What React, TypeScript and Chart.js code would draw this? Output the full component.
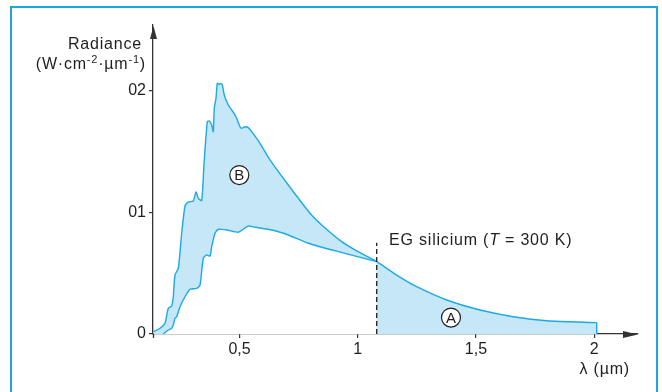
import React, { useEffect, useRef } from 'react';
import { Chart, registerables } from 'chart.js';

Chart.register(...registerables);

// ---------- data ----------
// Upper curve (solar spectrum), wavelength in µm
const upperLambda = [
  0.1353, 0.1637, 0.1848, 0.1988, 0.2132, 0.2199, 0.2271, 0.2411, 0.2555, 0.2694,
  0.2834, 0.3045, 0.3159, 0.3257, 0.34, 0.3498, 0.3637, 0.3722, 0.3823, 0.3891,
  0.3933, 0.4005, 0.406, 0.4145, 0.4204, 0.4272, 0.4356, 0.4525, 0.4669, 0.4766,
  0.4881, 0.502, 0.5092, 0.5232, 0.5371, 0.5515, 0.5866, 0.6289, 0.7063, 0.7981,
  0.8476, 0.9322, 0.9884, 1.0802, 1.1648, 1.2494, 1.3763, 1.5171, 1.6579, 1.7992,
  2.0107,
];
const upperRadiance = [
  0.0019, 0.0047, 0.0088, 0.0211, 0.023, 0.0306, 0.0484, 0.0539, 0.0827, 0.1051,
  0.1084, 0.1092, 0.1166, 0.1114, 0.1096, 0.1393, 0.1743, 0.1749, 0.1716, 0.1661,
  0.1853, 0.1935, 0.2058, 0.205, 0.2058, 0.2044, 0.1962, 0.188, 0.1839, 0.1812,
  0.1771, 0.1702, 0.1689, 0.1702, 0.1694, 0.1661, 0.1566, 0.1429, 0.1223, 0.0991,
  0.0895, 0.0758, 0.069, 0.0594, 0.0484, 0.0388, 0.0279, 0.0197, 0.0142, 0.0109,
  0.0093,
];
// Lower curve, up to the silicon gap
const lowerLambda = [
  0.1776, 0.1988, 0.2132, 0.2199, 0.2271, 0.2343, 0.2483, 0.2694, 0.2906, 0.3189,
  0.3329, 0.3468, 0.3612, 0.3752, 0.3823, 0.3963, 0.4103, 0.4458, 0.4948, 0.516,
  0.5371, 0.5655, 0.6501, 0.7063, 0.7909, 0.9178, 1.0802,
];
const lowerRadiance = [
  0, 0.0033, 0.0047, 0.0074, 0.0129, 0.0142, 0.0224, 0.0306, 0.0367, 0.0375,
  0.0402, 0.0622, 0.0649, 0.064, 0.0717, 0.0827, 0.086, 0.0854, 0.0835, 0.086,
  0.0887, 0.0876, 0.0848, 0.0813, 0.0745, 0.0676, 0.0594,
];
const gapLambda = 1.0802; // EG silicium (T = 300 K)
const gapMarkerTop = 0.075;

const xTickValues = [0.5, 1, 1.5, 2];
const xTickLabels = ['0,5', '1', '1,5', '2'];
const yTickValues = [0, 0.1, 0.2];
const yTickLabels = ['0', '01', '02'];

const X_MIN = 0.1341;
const X_MAX = 2.1853;
const Y_MIN = 0;
const Y_MAX = 0.2537;

const labelB = { x: 0.4991, y: 0.1305, text: 'B' };
const labelA = { x: 1.3944, y: 0.0135, text: 'A' };
const gapLabel = { x: 1.1323, y: 0.0727 };

// ---------- styles ----------
const FONT = "'Liberation Sans', Arial, Helvetica, sans-serif";
const LINE = '#1aaae6';
const FILL = '#c6e7f8';
const AXIS = '#333333';
const TEXT = '#1e1e1e';
const FRAME = '#1ea4df';

const pts = (xs: number[], ys: number[]) => xs.map((x, i) => ({ x, y: ys[i] }));

const decorPlugin = {
  id: 'decor',
  beforeDraw(chart: any) {
    const ctx = chart.ctx as CanvasRenderingContext2D;
    ctx.save();
    ctx.strokeStyle = FRAME;
    ctx.lineWidth = 2;
    ctx.beginPath();
    ctx.moveTo(11, 400);
    ctx.lineTo(11, 7);
    ctx.lineTo(657, 7);
    ctx.lineTo(657, 400);
    ctx.stroke();
    ctx.restore();
  },
  afterDraw(chart: any) {
    const ctx = chart.ctx as CanvasRenderingContext2D;
    const xs = chart.scales.x;
    const ys = chart.scales.y;
    const ca = chart.chartArea;
    const left = Math.round(ca.left) + 0.5;
    const bottom = Math.round(ca.bottom);
    ctx.save();
    // axis extension and arrow heads
    ctx.strokeStyle = AXIS;
    ctx.fillStyle = AXIS;
    ctx.lineWidth = 1.3;
    ctx.beginPath();
    ctx.moveTo(left, bottom);
    ctx.lineTo(left, bottom + 4);
    ctx.stroke();
    ctx.beginPath();
    ctx.moveTo(left, ca.top + 1);
    ctx.lineTo(left - 3.5, ca.top + 14);
    ctx.lineTo(left + 3.5, ca.top + 14);
    ctx.closePath();
    ctx.fill();
    ctx.beginPath();
    ctx.moveTo(ca.right, bottom + 0.5);
    ctx.lineTo(ca.right - 15, bottom - 3);
    ctx.lineTo(ca.right - 15, bottom + 4);
    ctx.closePath();
    ctx.fill();

    (ctx as any).letterSpacing = '0.8px';
    ctx.fillStyle = TEXT;
    ctx.textBaseline = 'alphabetic';
    // y title
    ctx.font = `16px ${FONT}`;
    ctx.textAlign = 'right';
    ctx.fillText('Radiance', 142, 49);
    // unit with superscripts, right aligned at 146
    const parts: [string, boolean][] = [
      ['(W·cm', false], ['-2', true], ['·µm', false], ['-1', true], [')', false],
    ];
    ctx.textAlign = 'left';
    const widths = parts.map(([t, sup]) => {
      ctx.font = `${sup ? 11 : 16}px ${FONT}`;
      return ctx.measureText(t).width;
    });
    let cx = 146 - widths.reduce((a, b) => a + b, 0);
    parts.forEach(([t, sup], i) => {
      ctx.font = `${sup ? 11 : 16}px ${FONT}`;
      ctx.fillText(t, cx, sup ? 62.5 : 68.5);
      cx += widths[i];
    });
    // x title
    ctx.font = `16px ${FONT}`;
    ctx.textAlign = 'right';
    ctx.fillText('λ (µm)', 630, 374);

    // gap label
    ctx.textAlign = 'left';
    let gx = xs.getPixelForValue(gapLabel.x);
    const gy = ys.getPixelForValue(gapLabel.y);
    const seg: [string, string][] = [
      ['EG silicium (', `16px ${FONT}`],
      ['T', `italic 16px ${FONT}`],
      [' = 300 K)', `16px ${FONT}`],
    ];
    seg.forEach(([t, f]) => {
      ctx.font = f;
      ctx.fillText(t, gx, gy);
      gx += ctx.measureText(t).width;
    });

    // circled letters
    (ctx as any).letterSpacing = '0px';
    [labelB, labelA].forEach((l) => {
      const px = xs.getPixelForValue(l.x);
      const py = ys.getPixelForValue(l.y);
      ctx.beginPath();
      ctx.arc(px, py, 9.5, 0, Math.PI * 2);
      ctx.fillStyle = '#ffffff';
      ctx.fill();
      ctx.lineWidth = 1.2;
      ctx.strokeStyle = TEXT;
      ctx.stroke();
      ctx.fillStyle = TEXT;
      ctx.font = `15px ${FONT}`;
      ctx.textAlign = 'center';
      ctx.textBaseline = 'middle';
      ctx.fillText(l.text, px, py + 1);
    });
    ctx.restore();
  },
};

export default function App() {
  const ref = useRef<HTMLCanvasElement | null>(null);

  useEffect(() => {
    if (!ref.current) return;
    const upper = pts(upperLambda, upperRadiance);
    const lower = pts(lowerLambda, lowerRadiance);
    const lastX = upperLambda[upperLambda.length - 1];
    const lastY = upperRadiance[upperRadiance.length - 1];

    const chart = new Chart(ref.current, {
      type: 'line',
      data: {
        datasets: [
          // lower curve, white underneath it (painted after the upper fill)
          {
            data: lower,
            borderColor: LINE,
            borderWidth: 1.4,
            backgroundColor: '#ffffff',
            fill: 'origin',
            pointRadius: 0,
            tension: 0.2,
            order: 1,
          },
          {
            data: upper,
            borderColor: LINE,
            borderWidth: 1.4,
            backgroundColor: FILL,
            fill: 'origin',
            pointRadius: 0,
            tension: 0.2,
            order: 2,
          },
          {
            data: [{ x: lastX, y: 0 }, { x: lastX, y: lastY }],
            borderColor: LINE,
            borderWidth: 1.4,
            fill: false,
            pointRadius: 0,
            order: 0,
          },
          {
            data: [{ x: gapLambda, y: 0 }, { x: gapLambda, y: gapMarkerTop }],
            borderColor: TEXT,
            borderWidth: 1.3,
            borderDash: [5, 3],
            fill: false,
            pointRadius: 0,
            order: -1,
          },
        ] as any,
      },
      options: {
        responsive: false,
        animation: false,
        devicePixelRatio: 1,
        layout: { padding: { left: 0, top: 25, right: 24, bottom: 0 } },
        plugins: { legend: { display: false }, tooltip: { enabled: false }, title: { display: false } },
        scales: {
          x: {
            type: 'linear',
            min: X_MIN,
            max: X_MAX,
            z: 1,
            afterFit: (s: any) => { s.height = 58; },
            afterBuildTicks: (s: any) => { s.ticks = xTickValues.map((v) => ({ value: v })); },
            ticks: {
              callback: (_v: any, i: number) => xTickLabels[i],
              font: { family: FONT, size: 16 },
              color: TEXT,
              padding: 2,
              autoSkip: false,
              maxRotation: 0,
            },
            grid: { drawOnChartArea: false, drawTicks: true, tickLength: 4, color: AXIS, lineWidth: 1.2 },
            border: { display: true, color: AXIS, width: 1.3 },
          },
          y: {
            type: 'linear',
            min: Y_MIN,
            max: Y_MAX,
            z: 1,
            afterFit: (s: any) => { s.width = 153; },
            afterBuildTicks: (s: any) => { s.ticks = yTickValues.map((v) => ({ value: v })); },
            ticks: {
              callback: (_v: any, i: number) => yTickLabels[i],
              font: { family: FONT, size: 16 },
              color: TEXT,
              padding: 3,
              autoSkip: false,
            },
            grid: { drawOnChartArea: false, drawTicks: true, tickLength: 4, color: AXIS, lineWidth: 1.2 },
            border: { display: true, color: AXIS, width: 1.3 },
          },
        },
      } as any,
      plugins: [decorPlugin],
    });
    return () => chart.destroy();
  }, []);

  return (
    <div style={{ position: 'fixed', left: 0, top: 0, width: 662, height: 392, background: '#fff' }}>
      <canvas ref={ref} width={662} height={392} style={{ display: 'block', width: 662, height: 392 }} />
    </div>
  );
}
